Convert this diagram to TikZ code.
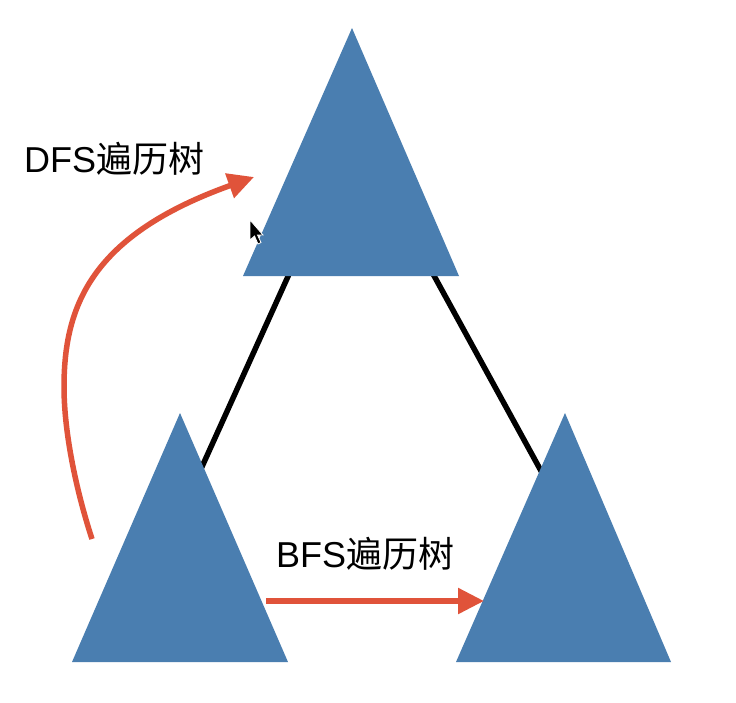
\documentclass[tikz,border=0pt]{standalone}
\usepackage{fontspec}
\setmainfont{Liberation Sans}
\newfontfamily\cjk{Noto Sans CJK SC}
\usetikzlibrary{arrows.meta}
\definecolor{triblue}{RGB}{74,126,176}
\definecolor{arrred}{RGB}{224,83,58}
\tikzset{
  tri/.style={fill=triblue, draw=none},
  link/.style={line width=5.5pt, black},
  redarrow/.style={line width=5.5pt, arrred, -{Triangle[length=26pt,width=25pt]}},
  lbl/.style={font=\fontsize{36}{40}\selectfont, inner sep=0pt, text=black}
}
\begin{document}
\begin{tikzpicture}[x=1pt,y=-1pt]
\useasboundingbox (0,0) rectangle (736,702);
\fill[white] (0,0) rectangle (736,702);
% connection points
\coordinate (tl) at (290,272);
\coordinate (bl) at (196,480);
\coordinate (tr) at (432,272);
\coordinate (br) at (546,480);
\draw[link] (tl) -- (bl);
\draw[link] (tr) -- (br);
% triangles
\fill[tri] (352,28) -- (459,276) -- (243,276) -- cycle;
\fill[tri] (180,413) -- (288,662) -- (72,662) -- cycle;
\fill[tri] (565,413) -- (671,662) -- (456,662) -- cycle;
% arrows
\coordinate (ds) at (92,539);
\coordinate (dm) at (64,387);
\coordinate (de) at (254,177);
\draw[redarrow] (ds) .. controls (76,490) and (64,432) .. (dm)
  .. controls (64,305) and (92,235) .. (de);
\coordinate (bs) at (266,601);
\coordinate (be) at (484,601);
\draw[redarrow] (bs) -- (be);
% labels
\node[lbl, anchor=west] (dfs) at (24,159) {DFS{\cjk 遍历树}};
\node[lbl, anchor=west] (bfs) at (276,554) {BFS{\cjk 遍历树}};
% mouse cursor
\fill[black, draw=white, line width=0.8pt] (250,220) -- (250,240) -- (254.5,236) -- (258,244) -- (261,242.5) -- (257.5,235) -- (263,235) -- cycle;
\end{tikzpicture}
\end{document}
